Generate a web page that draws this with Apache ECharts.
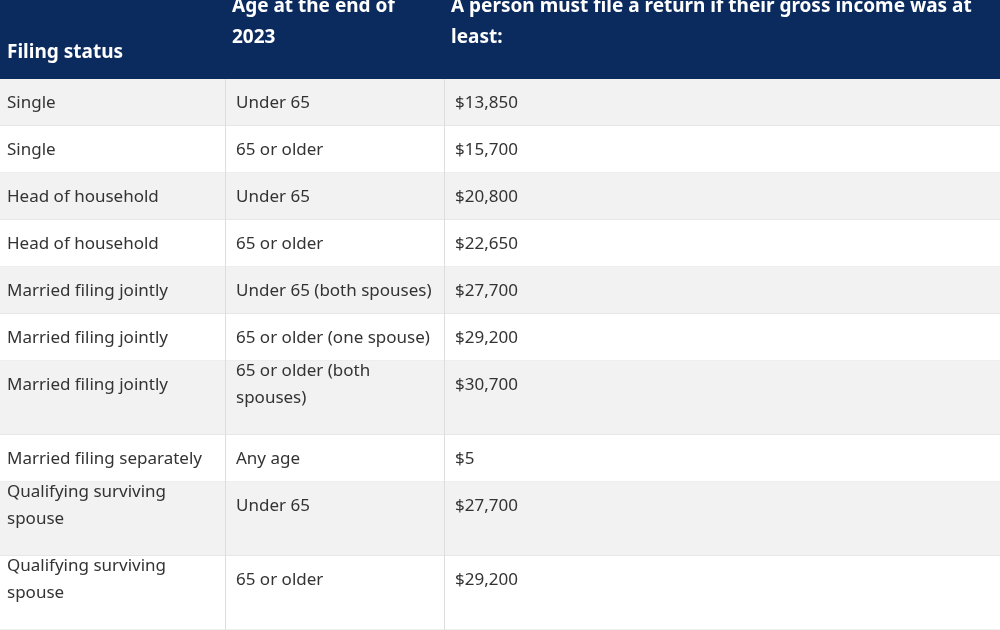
<!DOCTYPE html>
<html><head><meta charset="utf-8">
<script src="https://cdn.jsdelivr.net/npm/echarts@6/dist/echarts.min.js"></script>
<style>html,body{margin:0;padding:0;background:#fff}#c{width:1000px;height:630px}</style>
</head><body><div id="c"></div>
<script>
var headers = ["Filing status", "Age at the end of\n2023", "A person must file a return if their gross income was at\nleast:"];
var filingStatus = ["Single","Single","Head of household","Head of household","Married filing jointly","Married filing jointly","Married filing jointly","Married filing separately","Qualifying surviving\nspouse","Qualifying surviving\nspouse"];
var ages = ["Under 65","65 or older","Under 65","65 or older","Under 65 (both spouses)","65 or older (one spouse)","65 or older (both\nspouses)","Any age","Under 65","65 or older"];
var incomes = ["$13,850","$15,700","$20,800","$22,650","$27,700","$29,200","$30,700","$5","$27,700","$29,200"];

var colX = [0, 225, 444, 1000];
var headerH = 79, oneLine = 47, twoLine = 74;
var font = "'Noto Sans', sans-serif";
var els = [];
els.push({type:'rect', shape:{x:0,y:0,width:1000,height:headerH}, style:{fill:'#0b2b5e'}});
headers.forEach(function(h, i){
  var lines = h.split('\n').length;
  els.push({type:'text', x: colX[i]+7, y: lines===1 ? 53 : 22,
    style:{text:h, fill:'#fff', font:'bold 19px '+font, lineHeight:31, verticalAlign:'middle'}});
});
var y = headerH;
filingStatus.forEach(function(fs, r){
  var multi = fs.indexOf('\n')>=0 || ages[r].indexOf('\n')>=0;
  var h = multi ? twoLine : oneLine;
  els.push({type:'rect', shape:{x:0,y:y,width:1000,height:h}, style:{fill: r%2===0 ? '#f2f2f2' : '#ffffff'}});
  els.push({type:'line', shape:{x1:0,y1:y+h,x2:1000,y2:y+h}, style:{stroke:'#dddddd', lineWidth:1}});
  [fs, ages[r], incomes[r]].forEach(function(t, c){
    els.push({type:'text', x: colX[c]+7 + (c>0?4:0), y: y+24,
      style:{text:t, fill:'#333', font:'17px '+font, lineHeight:27, verticalAlign:'middle'}});
  });
  y += h;
});
[225, 444].forEach(function(x){
  els.push({type:'line', shape:{x1:x+0.5,y1:headerH,x2:x+0.5,y2:630}, style:{stroke:'#dddddd', lineWidth:1}});
});
var chart = echarts.init(document.getElementById('c'));
chart.setOption({animation:false, graphic:{elements:els}});
</script></body></html>
